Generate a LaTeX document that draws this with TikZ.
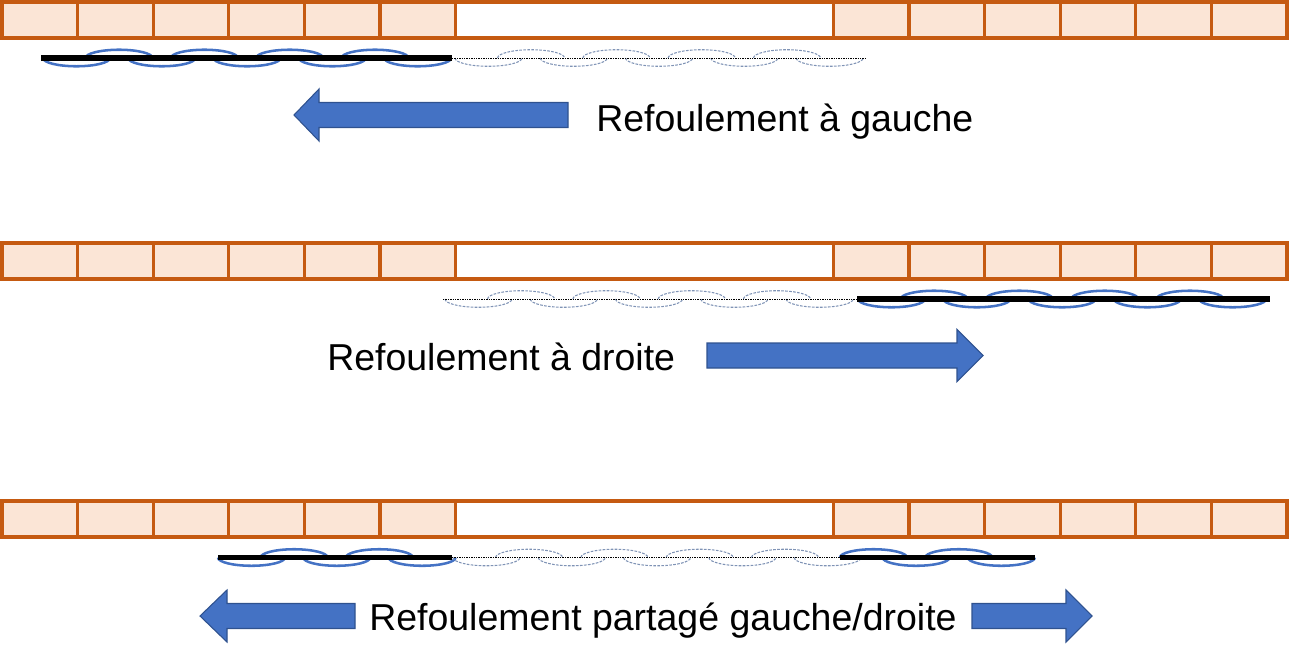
\documentclass[tikz,border=0pt]{standalone}
\usepackage{fontspec}
\setmainfont{Liberation Sans}
\definecolor{brickfill}{HTML}{FBE5D6}
\definecolor{brickline}{HTML}{C55A11}
\definecolor{linkblue}{HTML}{4472C4}
\definecolor{arrowline}{HTML}{2F528F}
\definecolor{ghost}{HTML}{7F93B5}
\tikzset{
  brick/.style={draw=brickline, fill=brickfill, line width=2.4pt},
  gapcell/.style={draw=brickline, fill=white, line width=2.4pt},
  link/.style={draw=linkblue, line width=1.9pt},
  ghostlink/.style={draw=ghost, line width=0.8pt, dash pattern=on 2pt off 1pt},
  rope/.style={draw=black, line width=3.8pt},
  ghostrope/.style={draw=black, line width=0.7pt, dash pattern=on 1pt off 0.8pt},
  blockarrow/.style={fill=linkblue, draw=arrowline, line width=0.8pt},
  lbl/.style={font=\fontsize{28.1pt}{33pt}\selectfont, inner sep=0pt, anchor=base west},
}
% wall: #1 = top y
\newcommand\brickwall[1]{%
  \foreach \i in {0,1,2,3,4,5,11,12,13,14,15,16}{%
    \draw[brick] ({2+\i*75.59},#1) rectangle ++(75.59,36);}
  \draw[gapcell] ({2+6*75.59},#1) rectangle ++({5*75.59},36);
}
% chain: #1 = x0, #2 = y, #3 = n, #4 = style (lower arc first)
\newcommand\chainL[4]{%
  \foreach \k in {1,...,#3}{%
    \draw[#4] ({#1+(\k-1)*85.3},#2) arc[start angle=180,end angle=360,x radius=25.1pt,y radius=6.2pt];}
  \pgfmathtruncatemacro\nup{#3-1}
  \foreach \k in {1,...,\nup}{%
    \draw[#4] ({#1+(\k-1)*85.3+42.6},#2) arc[start angle=180,end angle=0,x radius=25.1pt,y radius=6.2pt];}
}
% chain with upper arc first
\newcommand\chainU[4]{%
  \foreach \k in {1,...,#3}{%
    \draw[#4] ({#1+(\k-1)*85.3},#2) arc[start angle=180,end angle=0,x radius=25.1pt,y radius=6.2pt];
    \draw[#4] ({#1+(\k-1)*85.3+42.6},#2) arc[start angle=180,end angle=360,x radius=25.1pt,y radius=6.2pt];}
}
% block arrow: #1 tail x, #2 head base x, #3 tip x, #4 centre y
\newcommand\blockarr[4]{%
  \draw[blockarrow] (#1,{#4-12.5}) -- (#2,{#4-12.5}) -- (#2,{#4-26}) -- (#3,#4)
     -- (#2,{#4+26}) -- (#2,{#4+12.5}) -- (#1,{#4+12.5}) -- cycle;
}
\begin{document}
\begin{tikzpicture}[x=0.75pt, y=-0.75pt]
\useasboundingbox (0,0) rectangle (1291,661);

% ---------- row 1 ----------
\brickwall{2}
\chainL{43}{58}{5}{link}
\chainL{455}{58}{5}{ghostlink}
\coordinate (r1a) at (41,58);
\coordinate (r1b) at (452,58);
\coordinate (r1c) at (866,58);
\draw[rope] (r1a) -- (r1b);
\draw[ghostrope] (r1b) -- (r1c);
\blockarr{568}{319}{294}{115}
\node[lbl] (t1) at (596,131) {Refoulement à gauche};

% ---------- row 2 ----------
\brickwall{243}
\chainL{445}{299}{5}{ghostlink}
\chainL{858}{299}{5}{link}
\coordinate (r2a) at (443,299);
\coordinate (r2b) at (857,299);
\coordinate (r2c) at (1270,299);
\draw[ghostrope] (r2a) -- (r2b);
\draw[rope] (r2b) -- (r2c);
\blockarr{707}{957}{983}{355.5}
\node[lbl] (t2) at (327,370) {Refoulement à droite};

% ---------- row 3 ----------
\brickwall{501}
\chainL{218}{557.5}{3}{link}
\chainL{453}{557.5}{5}{ghostlink}
\chainU{840}{557.5}{2}{link}
\coordinate (r3a) at (218,557.5);
\coordinate (r3b) at (452,557.5);
\coordinate (r3c) at (840,557.5);
\coordinate (r3d) at (1035,557.5);
\draw[rope] (r3a) -- (r3b);
\draw[ghostrope] (r3b) -- (r3c);
\draw[rope] (r3c) -- (r3d);
\blockarr{355}{227}{200}{616}
\blockarr{972}{1066}{1092}{616}
\node[lbl] (t3) at (369,630) {Refoulement partagé gauche/droite};
\end{tikzpicture}
\end{document}
